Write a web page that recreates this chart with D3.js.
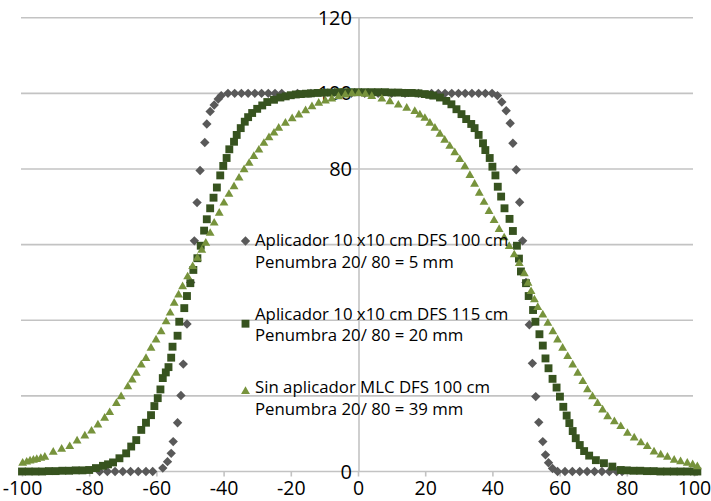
<!DOCTYPE html>
<html>
<head>
<meta charset="utf-8">
<script src="https://cdn.jsdelivr.net/npm/d3@7/dist/d3.min.js"></script>
<style>
  body { margin: 0; background: #fff; }
  svg { display: block; font-family: "Open Sans", sans-serif; }
</style>
</head>
<body>
<svg width="711" height="501"></svg>
<script>
// dose profiles, x in mm, dose in %
var xTicks = [-100, -80, -60, -40, -20, 0, 20, 40, 60, 80, 100];
var yGrid = [0, 20, 40, 60, 80, 100, 120];
var yLabels = [0, 80, 100, 120];

var legendTitle = ["Aplicador 10 x10 cm DFS 100 cm", "Aplicador 10 x10 cm DFS 115 cm", "Sin aplicador MLC DFS 100 cm"];
var legendPenumbra = ["Penumbra 20/ 80 = 5 mm", "Penumbra 20/ 80 = 20 mm", "Penumbra 20/ 80 = 39 mm"];

var profile5mm = [
  [-76.9,0],[-74.6,0],[-72.3,0],[-70,0],[-67.7,0],[-65.4,0],[-63.1,0],[-61.1,0],
  [-58.1,0.9],[-56.7,2.6],[-55.6,4.8],[-55,7.9],[-53.7,12.9],[-52.7,20.1],[-52,28.4],[-50.9,39],
  [-49.8,50],[-48.7,61],[-47.9,71.1],[-47,79.6],[-45.6,87],[-45,91.9],[-44,95.2],[-42.8,96.9],
  [-41.6,98.5],[-40.7,99.4],[-38.7,100],[-36.7,100],[-34.7,100],[-32.7,100],[-30.7,100],[-28.7,100],
  [-26.7,100],[-24.7,100],[-22.7,100],[-18,100],[-14,100],[-10,100],[-6,100],[-2,100],[2,100],
  [6,100],[10,100],[14,100],[18,100],[21.9,100],[23.9,100],[25.9,100],[27.9,100],[29.9,100],
  [31.9,100],[33.9,100],[35.9,100],[37.9,100],[39.9,100],[41.5,99.4],[42.8,97.7],[44.1,95.4],
  [45.3,92.1],[46.1,86.8],[47.1,79.8],[48.1,71.2],[49,61],[50,50],[51,38.8],[51.9,28.6],
  [52.9,19.8],[53.8,13],[55,7.9],[55.8,4.4],[56.7,2.3],[57.9,0.8],[59.4,0],[61.6,0],[63.8,0],
  [66,0],[68.2,0],[70.4,0],[72.6,0],[74.8,0],[77,0],[78.6,0]
];

var profile20mm = [
  [-100,0],[-98,0],[-96,0],[-94,0],[-92,0.1],[-90,0.1],[-88,0.2],[-86,0.2],[-84,0.3],[-82,0.3],
  [-80,0.4],[-78,0.9],[-75.9,1.5],[-74.4,1.9],[-72.9,2.4],[-71,3.5],[-69,4.8],[-67.5,6.6],
  [-66,8.3],[-64.5,11],[-63.1,12.9],[-61.6,14.9],[-60.6,17.3],[-59.6,19.4],[-58.8,21.7],
  [-58.1,24.7],[-57.2,26.2],[-56.4,27.6],[-55.6,30.1],[-55.2,33],[-53.7,35.9],[-53.2,39.6],
  [-51.7,43.2],[-50.9,46.4],[-49.9,49.8],[-49,53.3],[-47.8,56.4],[-46.8,59.7],[-45.8,63.7],
  [-45,66.7],[-44,69.6],[-43,72.4],[-42,75.1],[-41,78.3],[-40.1,80.8],[-39.1,82.9],[-38.3,85.2],
  [-36.9,87.2],[-36.1,89],[-34.9,90.8],[-33.7,92.5],[-32.7,93.7],[-31.5,94.8],[-30,95.9],
  [-28.5,96.8],[-27,97.7],[-25,98.3],[-23.1,98.9],[-21.5,99.2],[-20,99.5],[-18.5,99.7],[-17,99.8],
  [-15.5,99.9],[-14,100],[-12,100.1],[-10,100.2],[-8,100.2],[-6,100.3],[-4,100.3],[-2,100.3],
  [0,100.3],[2,100.3],[4,100.3],[6,100.3],[8,100.3],[10,100.2],[12,100.2],[14,100.1],[16,100.1],
  [18,100],[19.9,99.8],[21.2,99.6],[22.4,99.4],[24.4,98.9],[26.3,98],[27.8,97.1],[29.3,95.8],
  [30.8,94.5],[32.2,93.2],[33.7,91.9],[34.7,90.8],[35.9,89],[37.2,86.8],[37.9,85],[39.2,82.9],
  [40,80.6],[40.9,78.3],[41.6,75.3],[42.6,72.7],[43.6,69.6],[45.1,66.8],[46.1,63.6],[47.3,59.7],
  [47.9,56.3],[48.5,52.9],[50,49.8],[50.8,46.4],[52.1,42.7],[52.8,39.6],[54,36.3],[55,33.3],
  [55.8,29.9],[56.7,27.3],[57.9,24.5],[59.1,22.2],[60.1,19.8],[61.1,17.1],[62.1,14.8],[62.9,12.8],
  [63.9,10.7],[64.8,8.8],[66,7],[67.3,5.4],[68.8,4.2],[70.8,3],[73.2,2.2],[75.7,1.3],[78.2,0.4],
  [80,0.3],[82,0.2],[84,0.2],[86,0.1],[88,0.1],[90,0],[92,0],[94,0],[96,0],[98,0],[100,0],[101,0]
];

var profile39mm = [
  [-99.8,2.2],[-98.6,2.5],[-97.6,2.8],[-96.6,3],[-95.6,3.2],[-94.4,3.5],[-93.2,3.8],[-90.7,5.1],
  [-88.2,5.9],[-85.8,6.6],[-83.6,8.1],[-81.3,9.4],[-79.3,10.7],[-77.4,12.3],[-75.4,14.1],
  [-73.9,15.6],[-71.9,18],[-70.5,19.8],[-68.5,22.4],[-67.2,24.2],[-66,26],[-64.5,28.2],
  [-63.1,29.9],[-61.6,32.6],[-60.1,34.8],[-58.6,37],[-57.1,39.6],[-55.9,41.9],[-54.7,44.5],
  [-53.4,46.7],[-52.2,48.9],[-50.7,51.5],[-49.2,54.2],[-47.8,56.4],[-46.5,58.5],[-45.3,60.4],
  [-44,63],[-42.8,65.7],[-41.3,68.3],[-39.9,71],[-38.4,73.3],[-36.9,75.3],[-35.4,77.6],
  [-33.9,79.8],[-32.4,81.5],[-31,83.3],[-29.5,85],[-28,86.8],[-26.5,88.3],[-25,89.5],[-23.6,90.8],
  [-21.6,92.1],[-19.6,93.3],[-17.6,94.3],[-15.6,95.4],[-13.7,96.5],[-11.7,97.4],[-9.7,98],
  [-7.8,98.5],[-5.8,99.1],[-3.8,99.6],[-1.8,99.9],[0.2,100],[2.2,99.8],[4.1,99.2],[7.1,98.5],
  [9.5,97.8],[12,96.9],[14.5,96.1],[16.9,95.2],[18.4,94.3],[19.9,93.4],[21.4,92.1],[22.9,90.8],
  [24.4,89.2],[25.8,87.6],[27.3,86],[28.8,84.3],[30.3,82.5],[31.8,80.6],[33.3,78.3],[34.7,76],
  [36.1,73.6],[37.5,71.2],[39,68.8],[40.5,66.4],[42,64],[43.5,61.8],[45,59.5],[46.5,57.3],
  [48,55],[49.5,52.3],[50.6,49.8],[51.5,47.6],[52.5,45.4],[53.5,43.4],[55,41.4],[56.5,39.2],
  [58,37],[59.4,34.8],[60.9,32.6],[62.4,30.4],[63.9,28.2],[65.4,26],[66.9,23.8],[68.3,21.6],
  [69.8,19.8],[71.3,18],[72.8,16.3],[74.3,14.5],[76.3,13.2],[78.2,11.9],[80.2,10.1],[82.2,8.9],
  [84.2,7.6],[86.1,6.6],[88.1,5.2],[90.1,4.4],[92.1,3.8],[94.1,3],[96,2.6],[98,2.2],[99.6,1.8],
  [101,1.3]
];

var profiles = [profile5mm, profile20mm, profile39mm];
var colors = ["#595959", "#37531f", "#77933c"];

var svg = d3.select("svg");

var x = d3.scaleLinear().domain([-100, 100]).range([22, 694]);
var y = d3.scaleLinear().domain([0, 120]).range([471.5, 17.7]);

// marker shapes: diamond (rotated square), square, triangle
var markers = [
  { path: d3.symbol(d3.symbolSquare, 44)(), rotate: 45 },
  { path: d3.symbol(d3.symbolSquare, 62)(), rotate: 0 },
  { path: d3.symbol(d3.symbolTriangle, 34)(), rotate: 0 }
];

svg.append("rect").attr("width", 711).attr("height", 501).attr("fill", "#fff");

// horizontal gridlines
svg.append("g")
  .selectAll("line")
  .data(yGrid)
  .enter()
  .append("line")
  .attr("x1", x(-100) - 1)
  .attr("x2", x(100) - 1)
  .attr("y1", function(d) { return y(d); })
  .attr("y2", function(d) { return y(d); })
  .attr("stroke", "#c3c3c3")
  .attr("stroke-width", 1.6);

// vertical axis through x = 0
svg.append("line")
  .attr("x1", x(0) + 1).attr("x2", x(0) + 1)
  .attr("y1", y(120)).attr("y2", y(0))
  .attr("stroke", "#c3c3c3")
  .attr("stroke-width", 1.6);

// x axis ticks and labels
var xAxis = svg.append("g")
  .attr("transform", "translate(0," + y(0) + ")")
  .call(d3.axisBottom(x)
    .tickValues(xTicks)
    .tickFormat(function(d) { return String(d); })
    .tickSize(5)
    .tickPadding(4.5));
xAxis.select(".domain").remove();
xAxis.selectAll(".tick line").attr("stroke", "#c3c3c3").attr("stroke-width", 1.6);
xAxis.selectAll(".tick text")
  .attr("fill", "#000")
  .style("font-size", "19.5px")
  .style("font-family", "'Open Sans', sans-serif");

// y labels
svg.append("g")
  .selectAll("text")
  .data(yLabels)
  .enter()
  .append("text")
  .attr("x", x(0) - 6)
  .attr("y", function(d) { return y(d); })
  .attr("dy", "0.35em")
  .attr("text-anchor", "end")
  .style("font-size", "20px")
  .attr("fill", "#000")
  .text(function(d) { return d; });

// series
profiles.forEach(function(data, i) {
  svg.append("g")
    .selectAll("path")
    .data(data)
    .enter()
    .append("path")
    .attr("d", markers[i].path)
    .attr("transform", function(d) {
      return "translate(" + x(d[0]) + "," + y(d[1]) + ") rotate(" + markers[i].rotate + ")";
    })
    .attr("fill", colors[i]);
});

// legend
var markerDy = [-5, 4, -2];
var legend = svg.append("g");
legendTitle.forEach(function(t, i) {
  var base = 246 + i * 73.7;
  legend.append("path")
    .attr("d", markers[i].path)
    .attr("transform", "translate(245.5," + (base + markerDy[i]) + ") rotate(" + markers[i].rotate + ")")
    .attr("fill", colors[i]);
  legend.append("text")
    .attr("x", 255)
    .attr("y", base)
    .style("font-size", "16.8px")
    .attr("fill", "#000")
    .text(t);
  legend.append("text")
    .attr("x", 255)
    .attr("y", base + 21.5)
    .style("font-size", "16.8px")
    .attr("fill", "#000")
    .text(legendPenumbra[i]);
});
</script>
</body>
</html>
